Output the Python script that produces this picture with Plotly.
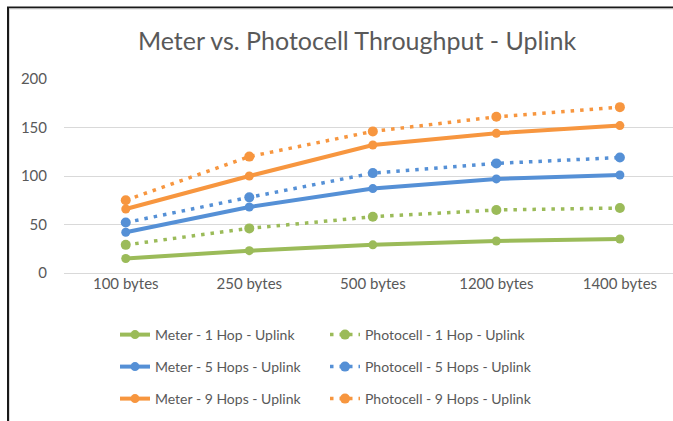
import plotly.graph_objects as go

categories = ["100 bytes", "250 bytes", "500 bytes", "1200 bytes", "1400 bytes"]

meter_1hop = [15, 23, 29, 33, 35]
photo_1hop = [29, 46, 58, 65, 67]
meter_5hops = [42, 68, 87, 97, 101]
photo_5hops = [52, 78, 103, 113, 119]
meter_9hops = [66, 100, 132, 144, 152]
photo_9hops = [75, 120, 146, 161, 171]

GREEN = "#9BBB59"
BLUE = "#5590D6"
ORANGE = "#F7963F"

# plot area in pixels: left 64, right 673, top 79, bottom 273
PL, PW, PB, PH = 64, 609, 273, 194


def px_x(p):
    return (p - PL) / PW


def px_y(p):
    return (PB - p) / PH


# (name, values, colour, dotted?, legend text x, legend row y)
series = [
    ("Meter - 1 Hop - Uplink", meter_1hop, GREEN, False, 155, 335),
    ("Photocell - 1 Hop - Uplink", photo_1hop, GREEN, True, 365, 335),
    ("Meter - 5 Hops - Uplink", meter_5hops, BLUE, False, 155, 367),
    ("Photocell - 5 Hops - Uplink", photo_5hops, BLUE, True, 365, 367),
    ("Meter - 9 Hops - Uplink", meter_9hops, ORANGE, False, 155, 399),
    ("Photocell - 9 Hops - Uplink", photo_9hops, ORANGE, True, 365, 399),
]

fig = go.Figure()
legends = {}
for i, (name, vals, color, dotted, lx, ly) in enumerate(series):
    key = "legend" if i == 0 else "legend%d" % (i + 1)
    fig.add_trace(go.Scatter(
        x=categories,
        y=vals,
        name=name,
        legend=key,
        mode="lines+markers",
        line=dict(color=color, width=3.5 if dotted else 4,
                  dash="3.5px,6px" if dotted else "solid"),
        marker=dict(color=color, size=10 if dotted else 9, symbol="circle"),
        cliponaxis=False,
    ))
    legends[key] = dict(
        x=px_x(lx - 40), xanchor="left",
        y=px_y(ly), yanchor="middle",
        font=dict(size=14, color="#595959"),
        bgcolor="rgba(0,0,0,0)",
    )

# chart frame: dark edge on the top and left, thin grey line inside it
frame = [
    ((7, 7.5), (673, 7.5), "#1A1A1A", 2),
    ((8, 7), (8, 421), "#1A1A1A", 2),
    ((9, 9), (673, 9), "#D9D9D9", 1),
    ((9.5, 9), (9.5, 421), "#D9D9D9", 1),
]
shapes = [
    dict(type="line", xref="paper", yref="paper",
         x0=px_x(a[0]), y0=px_y(a[1]), x1=px_x(b[0]), y1=px_y(b[1]),
         line=dict(color=c, width=w))
    for a, b, c, w in frame
]

fig.update_layout(
    width=673,
    height=421,
    paper_bgcolor="white",
    plot_bgcolor="white",
    font=dict(family="Lato", color="#595959", size=15),
    title=dict(
        text="Meter vs. Photocell Throughput - Uplink",
        x=357 / 673, xref="container", xanchor="center",
        y=1 - 41 / 421, yref="container", yanchor="middle",
        font=dict(size=25, color="#595959"),
    ),
    margin=dict(l=PL, r=0, t=79, b=421 - PB),
    showlegend=True,
    shapes=shapes,
    **legends,
)

fig.update_xaxes(
    type="category",
    range=[-0.5, 4.43],
    showgrid=False,
    showline=False,
    ticks="",
    tickfont=dict(size=15, color="#595959"),
)
fig.update_yaxes(
    range=[0, 200],
    dtick=50,
    showgrid=True,
    gridcolor="#D9D9D9",
    gridwidth=1,
    zeroline=True,
    zerolinecolor="#D9D9D9",
    zerolinewidth=1,
    showline=False,
    ticks="outside",
    ticklen=13,
    tickcolor="white",
    tickfont=dict(size=15, color="#595959"),
)

fig.write_html(
    "out.html",
    config={"displayModeBar": False},
    post_script="document.body.style.margin='0';"
                "document.body.style.overflow='hidden';"
                "document.documentElement.style.overflow='hidden';",
)
